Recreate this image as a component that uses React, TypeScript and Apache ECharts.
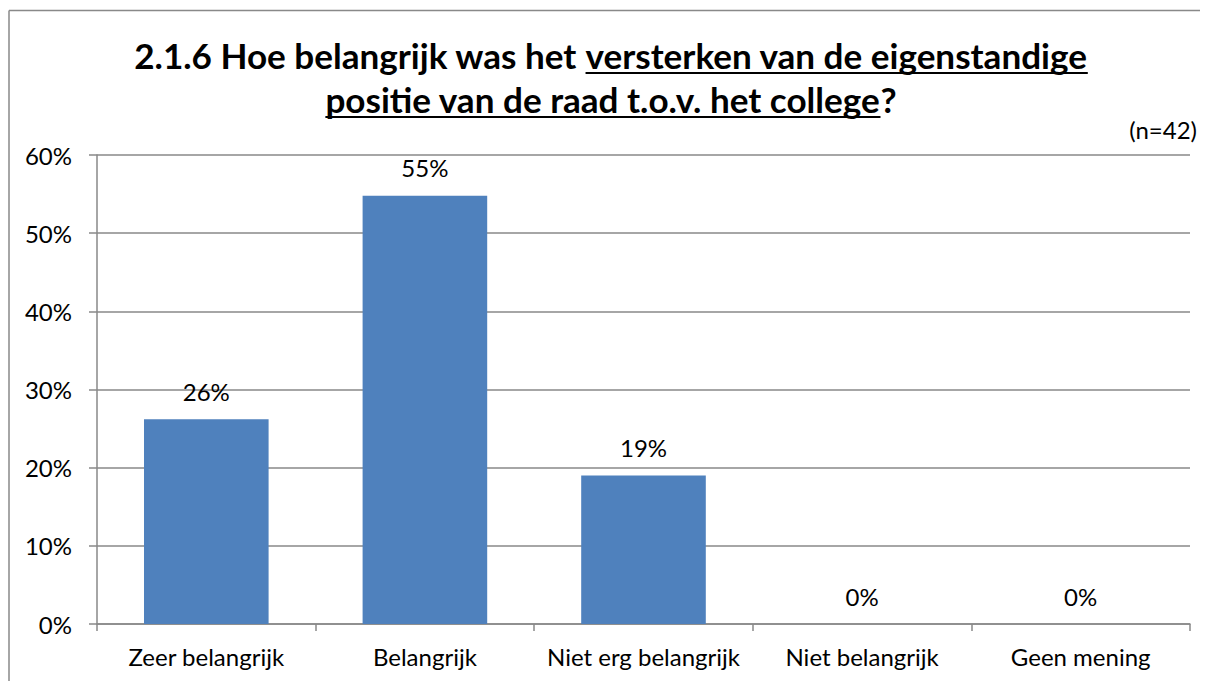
import React, { useEffect, useRef } from "react";
import * as echarts from "echarts";

const categories = ["Zeer belangrijk", "Belangrijk", "Niet erg belangrijk", "Niet belangrijk", "Geen mening"];
const values = [26.2, 54.8, 19.0, 0, 0];
const yTicks = [0, 10, 20, 30, 40, 50, 60];
const titleLine1 = ["2.1.6 Hoe belangrijk was het ", "versterken van de eigenstandige"];
const titleLine2 = ["positie van de raad t.o.v. het college", "?"];
const noteText = "(n=42)";

const FONT = "Lato, 'Open Sans', sans-serif";
const GRAY = "#898989";
const LABEL_SIZE = 24;
const CHART_W = 1300;

function measure(text: string, size: number, weight: string) {
  const c = document.createElement("canvas");
  const ctx = c.getContext("2d")!;
  ctx.font = `${weight} ${size}px Lato`;
  return ctx.measureText(text).width;
}

export default function App() {
  const ref = useRef<HTMLDivElement>(null);
  useEffect(() => {
    document.documentElement.style.overflow = "hidden";
    document.body.style.overflow = "hidden";
    const chart = echarts.init(ref.current!, undefined, { renderer: "svg" });

    const targetW = 953;
    const baseSize = 30;
    const w0 = measure(titleLine1.join(""), baseSize, "bold");
    const tSize = Math.round(baseSize * targetW / w0 * 10) / 10;
    const cx = 603;
    const graphics: any[] = [];

    const addLine = (parts: string[], underlineIdx: number, midY: number, ulY: number) => {
      const widths = parts.map((p) => measure(p, tSize, "bold"));
      const total = widths.reduce((a, b) => a + b, 0);
      let x = cx - total / 2;
      parts.forEach((p, i) => {
        graphics.push({
          type: "text",
          x,
          y: midY,
          style: {
            text: p,
            font: `bold ${tSize}px ${FONT}`,
            fill: "#000",
            textAlign: "left",
            textVerticalAlign: "middle",
          },
        });
        if (i === underlineIdx) {
          const trimmed = p.replace(/\s+$/, "");
          const wTrim = measure(trimmed, tSize, "bold");
          graphics.push({
            type: "line",
            shape: { x1: x, y1: ulY, x2: x + wTrim, y2: ulY },
            style: { stroke: "#000", lineWidth: 2 },
          });
        }
        x += widths[i];
      });
    };
    addLine(titleLine1, 1, 47, 65);
    addLine(titleLine2, 0, 91, 109);

    graphics.push({
      type: "line",
      shape: { x1: 1, y1: 2.5, x2: CHART_W, y2: 2.5 },
      style: { stroke: GRAY, lineWidth: 1.5 },
    });
    graphics.push({
      type: "line",
      shape: { x1: 1, y1: 2.5, x2: 1, y2: 673 },
      style: { stroke: GRAY, lineWidth: 1.5 },
    });
    graphics.push({
      type: "text",
      x: 1189,
      y: 109,
      style: { text: noteText, font: `${LABEL_SIZE}px ${FONT}`, fill: "#000", textAlign: "right" },
    });

    chart.setOption({
      animation: false,
      graphic: graphics,
      grid: { left: 89, right: CHART_W - 1182, top: 147, bottom: 57, containLabel: false },
      xAxis: {
        type: "category",
        data: categories,
        axisLine: { lineStyle: { color: GRAY, width: 1.5 } },
        axisTick: { show: true, length: 7, lineStyle: { color: GRAY, width: 1.5 } },
        axisLabel: { color: "#000", fontFamily: FONT, fontSize: LABEL_SIZE, margin: 20, interval: 0 },
      },
      yAxis: {
        type: "value",
        min: 0,
        max: 60,
        interval: 10,
        axisLine: { show: true, lineStyle: { color: GRAY, width: 1.5 } },
        axisTick: { show: true, length: 8, lineStyle: { color: GRAY, width: 1.5 } },
        splitLine: { show: true, lineStyle: { color: GRAY, width: 1.5 } },
        axisLabel: {
          color: "#000",
          fontFamily: FONT,
          fontSize: LABEL_SIZE,
          margin: 25,
          formatter: (v: number) => (yTicks.includes(v) ? `${v}%` : ""),
        },
      },
      series: [
        {
          type: "bar",
          data: values,
          barWidth: "57%",
          itemStyle: { color: "#4F81BD" },
          label: {
            show: true,
            position: "top",
            distance: 16,
            color: "#000",
            fontFamily: FONT,
            fontSize: LABEL_SIZE,
            formatter: (p: any) => `${Math.round(p.value)}%`,
          },
        },
      ],
    });
    return () => chart.dispose();
  }, []);
  return <div ref={ref} style={{ width: CHART_W, height: 673 }} />;
}
